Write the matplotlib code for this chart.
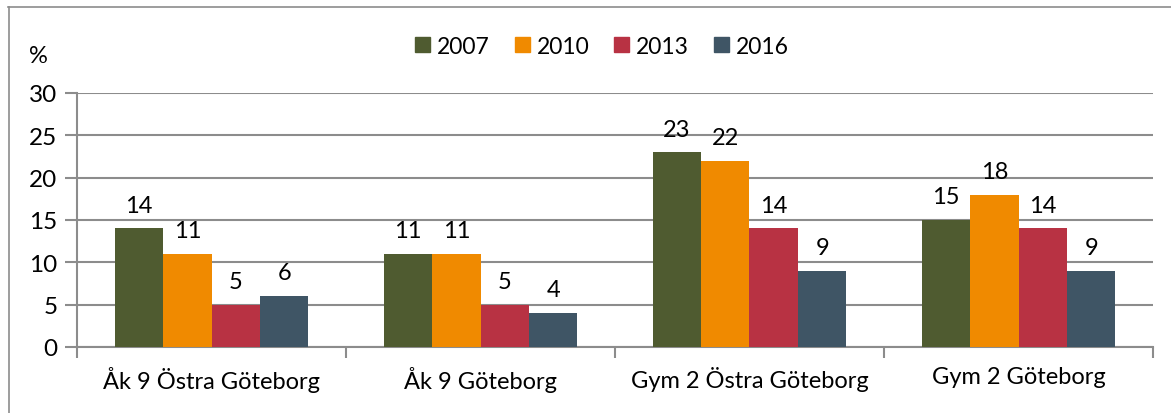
import numpy as np
from matplotlib import pyplot as plt
from matplotlib.lines import Line2D

plt.rcParams['font.family'] = ['Lato', 'DejaVu Sans']

categories = ['Åk 9 Östra Göteborg', 'Åk 9 Göteborg', 'Gym 2 Östra Göteborg', 'Gym 2 Göteborg']
years = ['2007', '2010', '2013', '2016']
v2007 = [14, 11, 23, 15]
v2010 = [11, 11, 22, 18]
v2013 = [5, 5, 14, 14]
v2016 = [6, 4, 9, 9]
colors = ['#4F5B30', '#F08A00', '#B83243', '#3F5565']

fig = plt.figure(figsize=(11.71, 4.14), dpi=100)
ax = fig.add_axes([77/1171, 1-348/414, (1153-77)/1171, (348-94)/414])

# outer chart frame
fig.add_artist(Line2D([8/1171, 1], [1-8/414, 1-8/414], color='#8c8c8c', lw=1.2))
fig.add_artist(Line2D([9/1171, 9/1171], [0, 1-8/414], color='#8c8c8c', lw=1.2))

x = np.arange(len(categories))
w = 0.18
series = [v2007, v2010, v2013, v2016]
for i, (vals, c, yr) in enumerate(zip(series, colors, years)):
    pos = x + (i - 1.5) * w
    ax.bar(pos, vals, w, color=c, label=yr, zorder=3)
    for px, v in zip(pos, vals):
        ax.text(px, v + 1.5, str(v), ha='center', va='bottom', fontsize=17)

ax.set_xlim(-0.5, 3.5)
ax.set_ylim(0, 30)
ax.set_yticks(range(0, 31, 5))
ax.yaxis.grid(True, color='#8c8c8c', lw=1.5, zorder=0)
for s in ['top', 'right']:
    ax.spines[s].set_visible(False)
ax.spines['left'].set_color('#8c8c8c')
ax.spines['bottom'].set_color('#8c8c8c')
ax.spines['left'].set_linewidth(1.5)
ax.spines['bottom'].set_linewidth(1.5)
ax.tick_params(axis='y', length=9, width=1.5, color='#8c8c8c', labelsize=17.5, pad=5)
ax.set_xticks(x)
ax.set_xticklabels(categories, fontsize=17)
ax.tick_params(axis='x', length=0, pad=14)
ax.set_xticks(np.arange(-0.5, 4, 1), minor=True)
ax.tick_params(axis='x', which='minor', length=8, width=1.5, color='#8c8c8c')

fig.text(38/1171, 1-57/414, '%', fontsize=17, ha='center', va='center')

handles = [plt.Rectangle((0, 0), 1, 1, color=c) for c in colors]
fig.legend(handles, years, loc='center', bbox_to_anchor=(602/1171, 1-47/414), ncol=4,
           frameon=False, fontsize=16.5, handlelength=0.65, handleheight=0.65,
           handletextpad=0.3, columnspacing=1.1)

plt.savefig('out.png', dpi=100)
